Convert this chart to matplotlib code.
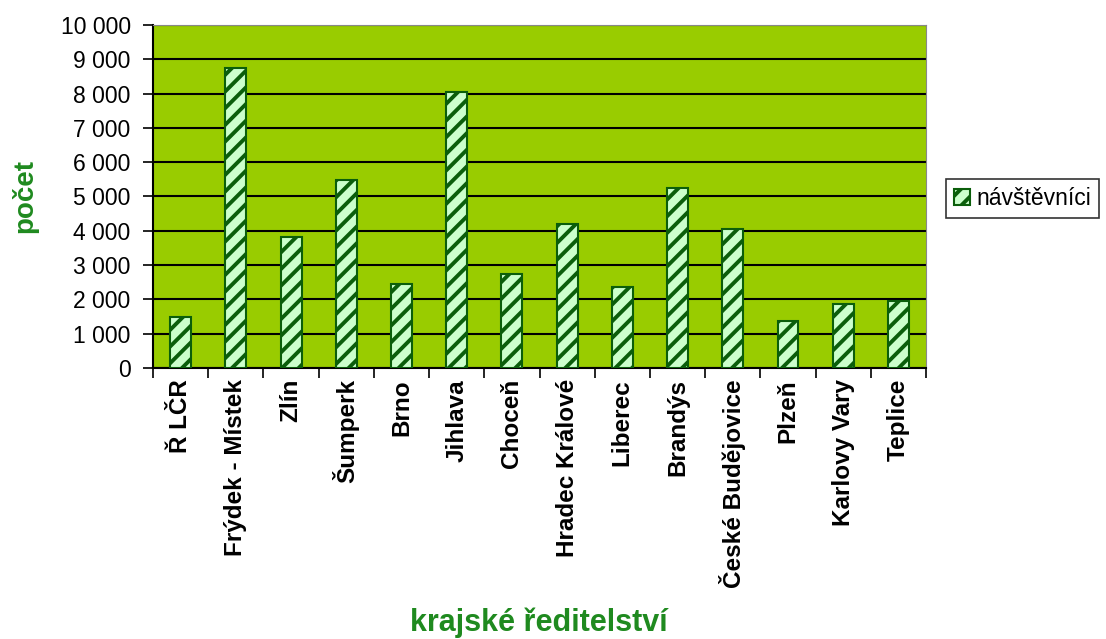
import matplotlib
matplotlib.use('Agg')
import matplotlib.pyplot as plt
from matplotlib.ticker import FuncFormatter

# data
regions = ['Ř LČR', 'Frýdek - Místek', 'Zlín', 'Šumperk', 'Brno', 'Jihlava', 'Choceň',
           'Hradec Králové', 'Liberec', 'Brandýs', 'České Budějovice', 'Plzeň',
           'Karlovy Vary', 'Teplice']
visitors = [1500, 8750, 3830, 5480, 2440, 8040, 2730, 4190, 2370, 5240, 4060, 1380, 1860, 1950]
yticks = list(range(0, 10001, 1000))

plt.rcParams['font.family'] = ['Liberation Sans', 'DejaVu Sans']
plt.rcParams['hatch.linewidth'] = 2.8

dark = '#0b5e0b'
label_green = '#1f8a1f'

fig = plt.figure(figsize=(11.06, 6.39), dpi=100)
ax = fig.add_axes([0.1383, 0.4241, 0.699, 0.5368])
ax.set_facecolor('#99cc00')

x = range(len(regions))
ax.bar(x, visitors, width=0.38, color='#ccffcc', edgecolor=dark, hatch='//',
       linewidth=1.5, label='návštěvníci', zorder=3)

ax.set_xlim(-0.5, len(regions) - 0.5)
ax.set_ylim(0, 10000)
ax.set_yticks(yticks)
ax.yaxis.set_major_formatter(FuncFormatter(lambda v, p: f'{int(v):,}'.replace(',', ' ')))
ax.grid(axis='y', color='black', linewidth=1.5, zorder=1)

# ticks between categories like excel
ax.set_xticks([i - 0.5 for i in range(len(regions) + 1)], minor=False)
ax.set_xticklabels([])
ax.set_xticks(list(x), minor=True)
ax.set_xticklabels(regions, minor=True, rotation=90, fontsize=17.5, fontweight='bold')
ax.tick_params(axis='x', which='minor', length=0, pad=8)
ax.tick_params(axis='x', which='major', length=7, width=1.2, direction='out')
ax.tick_params(axis='y', labelsize=16.5, length=7, width=1.2, pad=9)

for side in ['top', 'right']:
    ax.spines[side].set_color('#888888')
for side in ['left', 'bottom']:
    ax.spines[side].set_linewidth(1.5)

ax.set_ylabel('počet', fontsize=20, fontweight='bold', color=label_green, labelpad=16)
fig.text(0.487, 0.012, 'krajské ředitelství', fontsize=22, fontweight='bold',
         color=label_green, ha='center', va='baseline')

leg = fig.legend(loc='center left', bbox_to_anchor=(0.855, 0.69), fontsize=16.5,
                 frameon=True, fancybox=False, edgecolor='black', handlelength=0.7,
                 handleheight=0.7, handletextpad=0.3, borderpad=0.35, borderaxespad=0)
leg.get_frame().set_linewidth(1.2)

fig.savefig('out.png', dpi=100)
